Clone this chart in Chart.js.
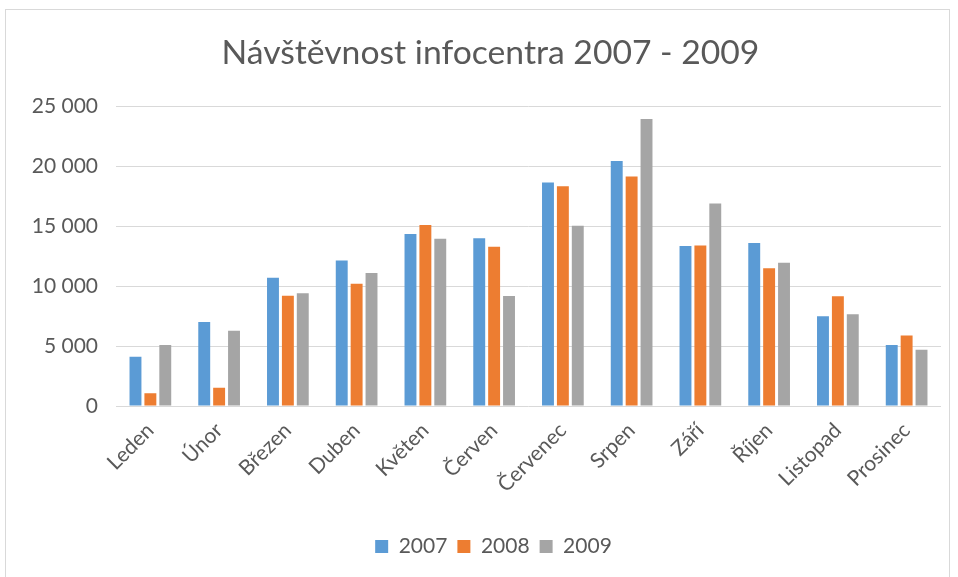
<!DOCTYPE html>
<html><head><meta charset="utf-8">
<script src="https://cdn.jsdelivr.net/npm/chart.js@4.4.1/dist/chart.umd.min.js"></script>
<style>html,body{margin:0;padding:0;background:#fff}#wrap{width:958px;height:577px;position:relative}</style>
</head><body><div id="wrap"><canvas id="c" width="958" height="577"></canvas></div>
<script>
const months = ['Leden','Únor','Březen','Duben','Květen','Červen','Červenec','Srpen','Září','Říjen','Listopad','Prosinec'];
const seriesNames = ['2007','2008','2009'];
const v2007 = [4100,7000,10700,12150,14350,14000,18650,20450,13350,13600,7500,5100];
const v2008 = [1060,1530,9200,10200,15100,13300,18330,19150,13400,11500,9150,5880];
const v2009 = [5100,6280,9400,11100,13950,9180,15050,23950,16900,11950,7650,4700];
const yTicks = [0,5000,10000,15000,20000,25000];
const colors = ['#5B9BD5','#ED7D31','#A5A5A5'];
const FONT = 'Lato, "Open Sans", sans-serif';
const TXT = '#595959';

const fmt = v => String(v).replace(/\B(?=(\d{3})+(?!\d))/g, ' ');

const borderPlugin = {
  id: 'outerBorder',
  beforeDraw(chart) {
    const ctx = chart.ctx;
    ctx.save();
    ctx.fillStyle = '#fff';
    ctx.fillRect(0, 0, chart.width, chart.height);
    ctx.strokeStyle = '#D9D9D9';
    ctx.lineWidth = 1;
    ctx.strokeRect(5.5, 9.5, 944, 570);
    ctx.restore();
  }
};

const chart = new Chart(document.getElementById('c'), {
  type: 'bar',
  data: {
    labels: months,
    datasets: [
      { label: seriesNames[0], data: v2007, backgroundColor: colors[0] },
      { label: seriesNames[1], data: v2008, backgroundColor: colors[1] },
      { label: seriesNames[2], data: v2009, backgroundColor: colors[2] }
    ]
  },
  plugins: [borderPlugin],
  options: {
    responsive: false,
    animation: false,
    devicePixelRatio: 1,
    layout: { padding: { left: 20, right: 17, top: 0, bottom: 10 } },
    datasets: { bar: { barPercentage: 0.8, categoryPercentage: 0.65, borderWidth: 0 } },
    plugins: {
      title: {
        display: true,
        text: 'Návštěvnost infocentra 2007 - 2009',
        color: TXT,
        font: { family: FONT, size: 33.7, weight: 'normal' },
        padding: { top: 33, bottom: 33 }
      },
      legend: {
        position: 'bottom',
        labels: {
          color: TXT,
          font: { family: FONT, size: 21 },
          boxWidth: 13, boxHeight: 13, padding: 10
        }
      },
      tooltip: { enabled: false }
    },
    scales: {
      x: {
        grid: { display: false },
        border: { display: false },
        ticks: { color: TXT, font: { family: FONT, size: 21 }, minRotation: 45, maxRotation: 45, padding: 4 },
        afterFit(s) { s.height = 120; }
      },
      y: {
        min: 0, max: 25000,
        afterBuildTicks(s) { s.ticks = yTicks.map(v => ({ value: v })); },
        grid: { color: '#D9D9D9', lineWidth: 1, drawTicks: false },
        border: { display: false },
        ticks: { color: TXT, font: { family: FONT, size: 21 }, padding: 18, callback: v => fmt(v) },
        afterFit(s) { s.width = 96; }
      }
    }
  }
});

function shiftDraw(box, dx) {
  if (!box) return;
  const orig = box.draw.bind(box);
  box.draw = function () {
    const ctx = this.ctx;
    ctx.save();
    ctx.translate(dx, 0);
    orig();
    ctx.restore();
  };
}
shiftDraw(chart.titleBlock, 10);
shiftDraw(chart.legend, 13);
chart.draw();
</script></body></html>
